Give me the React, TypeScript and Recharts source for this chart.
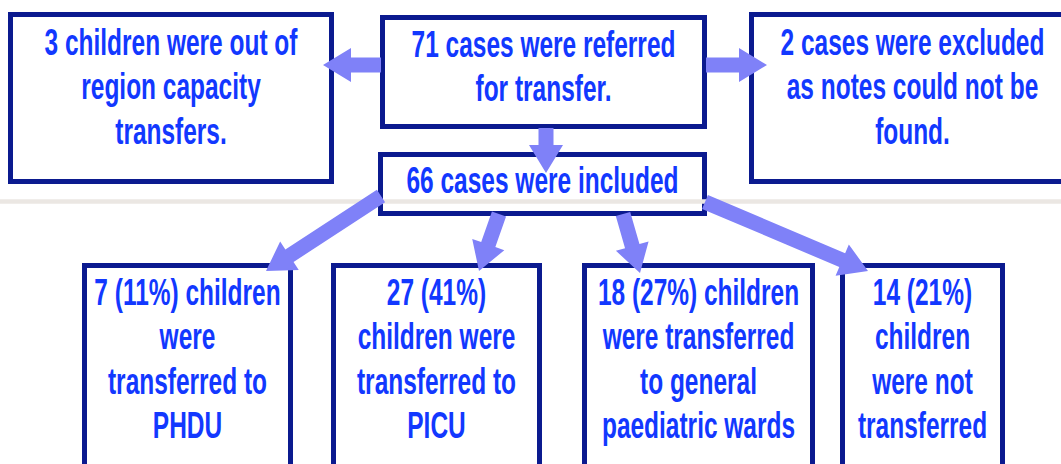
import { ComposedChart, XAxis, YAxis, ReferenceArea, ReferenceLine } from 'recharts'

const W = 1061
const H = 464

// box texts
const outOfRegion = ['3 children were out of', 'region capacity', 'transfers.']
const referred = ['71 cases were referred', 'for transfer.']
const excluded = ['2 cases were excluded', 'as notes could not be', 'found.']
const included = ['66 cases were included']
const phdu = ['7 (11%) children', 'were', 'transferred to', 'PHDU']
const picu = ['27 (41%)', 'children were', 'transferred to', 'PICU']
const wards = ['18 (27%) children', 'were transferred', 'to general', 'paediatric wards']
const notTransferred = ['14 (21%)', 'children', 'were not', 'transferred']

// layout (chart units == pixels)
const boxes = [
  { lines: outOfRegion, x1: 8, x2: 334, y1: 12, y2: 184, base: 55 },
  { lines: referred, x1: 380, x2: 707, y1: 15, y2: 129, base: 57 },
  { lines: excluded, x1: 749, x2: 1076, y1: 12, y2: 184, base: 55 },
  { lines: included, x1: 378, x2: 707, y1: 152, y2: 216, base: 193 },
  { lines: phdu, x1: 82, x2: 293, y1: 263, y2: 490, base: 305 },
  { lines: picu, x1: 331, x2: 542, y1: 263, y2: 490, base: 305 },
  { lines: wards, x1: 582, x2: 815, y1: 263, y2: 490, base: 305 },
  { lines: notTransferred, x1: 840, x2: 1005, y1: 263, y2: 490, base: 305 },
]

const arrows = [
  { from: [381, 65], to: [323, 65] },
  { from: [706, 65], to: [767, 65] },
  { from: [546, 128], to: [546, 173] },
  { from: [381, 196], to: [266, 271] },
  { from: [499, 214], to: [479, 271] },
  { from: [623, 214], to: [640, 273] },
  { from: [705, 202], to: [868, 271] },
]

const NAVY = '#0b1a8f'
const TEXT = '#1238ff'
const ARROW = '#7f81f8'
const FONT = '"Liberation Sans Narrow", "Arial Narrow", sans-serif'
const LINE_H = 44.5
const SX = 0.68

const Arrow = (p: any) => {
  const { x1, y1, x2, y2 } = p
  const dx = x2 - x1, dy = y2 - y1
  const len = Math.hypot(dx, dy)
  const ux = dx / len, uy = dy / len
  const nx = -uy, ny = ux
  const sw = 7.5, hw = 17, hl = 28
  const bx = x2 - ux * hl, by = y2 - uy * hl
  const pts = [
    [x1 + nx * sw, y1 + ny * sw],
    [bx + nx * sw, by + ny * sw],
    [bx + nx * hw, by + ny * hw],
    [x2, y2],
    [bx - nx * hw, by - ny * hw],
    [bx - nx * sw, by - ny * sw],
    [x1 - nx * sw, y1 - ny * sw],
  ]
  return <polygon points={pts.map(q => q.join(',')).join(' ')} fill={ARROW} />
}

const boxShape = (lines: string[], base: number) => (p: any) => {
  const { x, y, width, height } = p
  const cx = x + width / 2
  return (
    <g>
      <rect x={x + 2.5} y={y + 2.5} width={width - 5} height={height - 5} fill="#fff" stroke={NAVY} strokeWidth={5} />
      <g transform={`translate(${cx},0) scale(${SX},1)`}>
        {lines.map((t, i) => (
          <text key={i} x={0} y={base + i * LINE_H} textAnchor="middle" fill={TEXT}
            fontFamily={FONT} fontWeight="bold" fontSize={36}>{t}</text>
        ))}
      </g>
    </g>
  )
}

export default function App() {
  return (
    <div style={{ position: 'absolute', left: 0, top: 0, background: '#fff' }}>
      <ComposedChart width={W} height={H} data={[]} margin={{ top: 0, right: 0, bottom: 0, left: 0 }}>
        <XAxis type="number" dataKey="x" domain={[0, W]} hide allowDataOverflow />
        <YAxis type="number" dataKey="y" domain={[0, H]} reversed hide allowDataOverflow />
        <ReferenceLine segment={[{ x: 0, y: 201.5 }, { x: W, y: 201.5 }]} stroke="#ebe7e3" strokeWidth={4.5} ifOverflow="visible" />
        {boxes.map((b, i) => (
          <ReferenceArea key={i} x1={b.x1} x2={b.x2} y1={b.y1} y2={b.y2} ifOverflow="visible"
            shape={boxShape(b.lines, b.base)} />
        ))}
        {arrows.map((a, i) => (
          <ReferenceLine key={'a' + i} ifOverflow="visible"
            segment={[{ x: a.from[0], y: a.from[1] }, { x: a.to[0], y: a.to[1] }]}
            shape={(p: any) => <Arrow {...p} />} />
        ))}
      </ComposedChart>
    </div>
  )
}
